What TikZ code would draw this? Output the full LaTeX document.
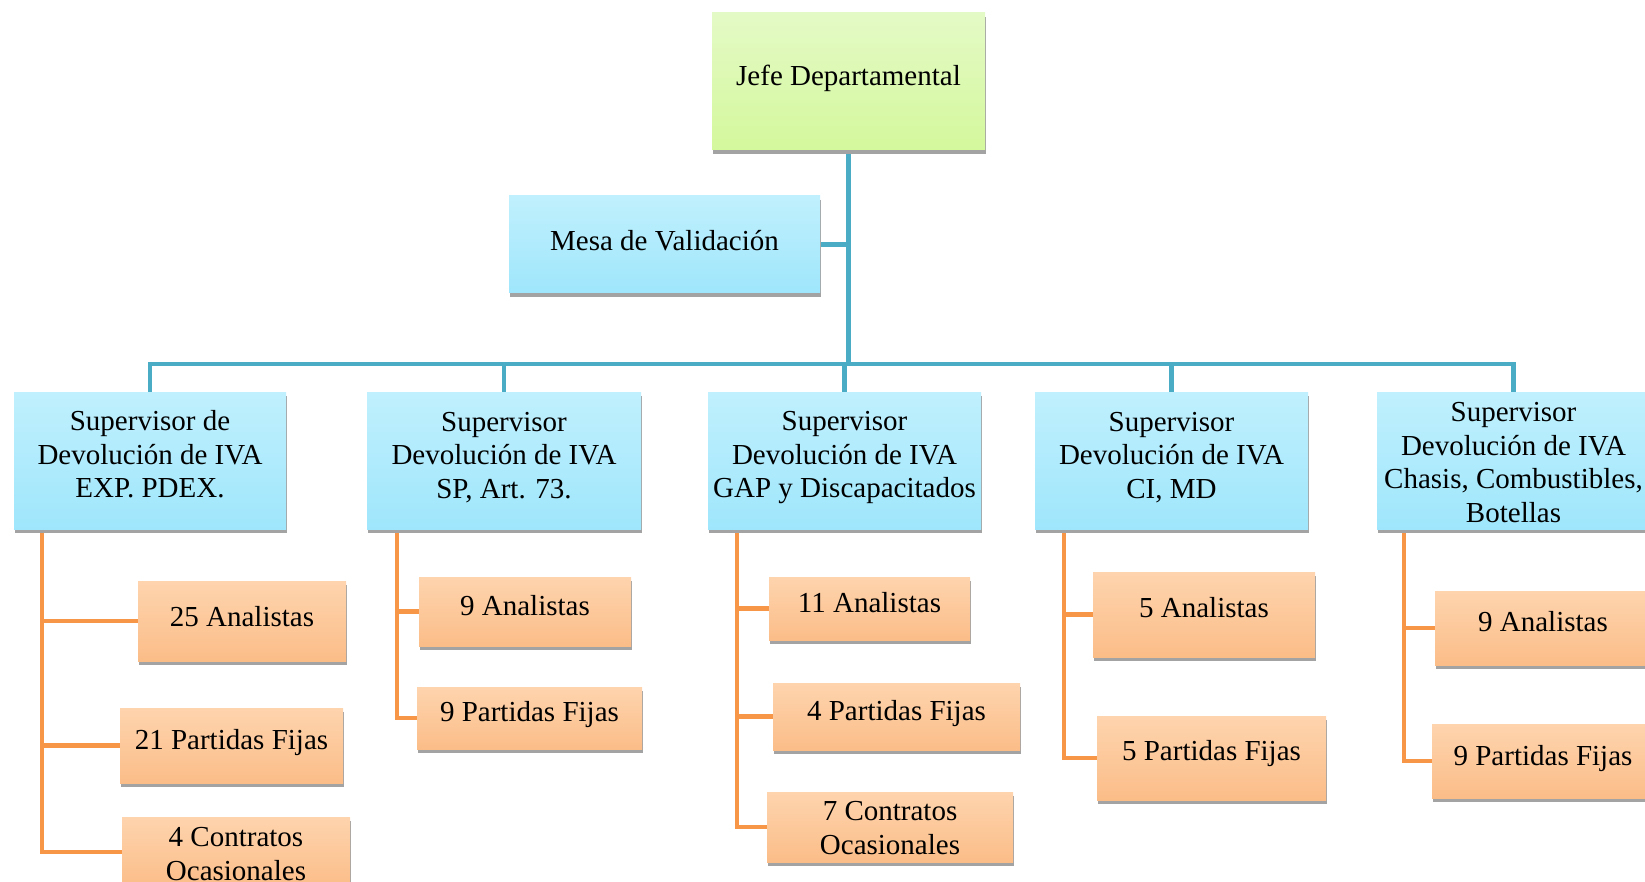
\documentclass[tikz,border=0pt]{standalone}
\usepackage{fontspec}
\setmainfont{Liberation Serif}
\usetikzlibrary{shadows,backgrounds}
\definecolor{greentop}{HTML}{E4FAC6}
\definecolor{greenbot}{HTML}{D4F89C}
\definecolor{bluetop}{HTML}{C0F0FD}
\definecolor{bluebot}{HTML}{9FE6FC}
\definecolor{orangetop}{HTML}{FED4AE}
\definecolor{orangebot}{HTML}{FBBD88}
\definecolor{blueline}{HTML}{4BACC6}
\definecolor{orangeline}{HTML}{F79646}
\definecolor{shadowgray}{HTML}{A3A3A3}
\begin{document}
\begin{tikzpicture}[x=1pt,y=-1pt,
  box/.style={inner sep=0pt,
    drop shadow={shadow xshift=0.8pt, shadow yshift=-4pt, fill=shadowgray, opacity=1}},
  lbl/.style={inner sep=0pt, align=center, font=\fontsize{29}{33.5}\selectfont},
  greenbox/.style={box, top color=greentop, bottom color=greenbot},
  bluebox/.style={box, top color=bluetop, bottom color=bluebot},
  orangebox/.style={box, top color=orangetop, bottom color=orangebot},
  bline/.style={draw=blueline, line width=4.5pt},
  oline/.style={draw=orangeline, line width=4.5pt}]
\useasboundingbox (0,0) rectangle (1645,882);
\clip (0,0) rectangle (1645,882);

% head and staff
\node[greenbox, minimum width=273pt, minimum height=137pt,
  label={[lbl,yshift=3pt]center:Jefe Departamental}] (jefe) at (848.5,81.5) {};
\node[bluebox, minimum width=311pt, minimum height=97pt,
  label={[lbl,yshift=4pt]center:Mesa de Validación}] (mesa) at (664.5,244.5) {};

% supervisors
\node[bluebox, minimum width=272pt, minimum height=137pt,
  label={[lbl,yshift=6pt]center:{Supervisor de\\Devolución de IVA\\EXP. PDEX.}}] (s1) at (150,460.5) {};
\node[bluebox, minimum width=274pt, minimum height=137pt,
  label={[lbl,yshift=3pt]center:{Supervisor\\Devolución de IVA\\SP, Art. 73.}}] (s2) at (504,460.5) {};
\node[bluebox, minimum width=273pt, minimum height=137pt,
  label={[lbl,yshift=2.5pt]center:{Supervisor\\Devolución de IVA\\GAP y Discapacitados}}] (s3) at (844.5,460.5) {};
\node[bluebox, minimum width=273pt, minimum height=137pt,
  label={[lbl,yshift=3pt]center:{Supervisor\\Devolución de IVA\\CI, MD}}] (s4) at (1171.5,460.5) {};
\node[bluebox, minimum width=273pt, minimum height=137pt,
  label={[lbl,yshift=-2pt]center:{Supervisor\\Devolución de IVA\\Chasis, Combustibles,\\Botellas}}] (s5) at (1513.5,460.5) {};

% staff under each supervisor
\node[orangebox, minimum width=208pt, minimum height=80pt,
  label={[lbl,yshift=4pt]center:25 Analistas}] (c11) at (242,621) {};
\node[orangebox, minimum width=223pt, minimum height=75pt,
  label={[lbl,yshift=3pt]center:21 Partidas Fijas}] (c12) at (231.5,745.5) {};
\node[orangebox, minimum width=228pt, minimum height=70pt,
  label={[lbl,yshift=-2pt]center:{4 Contratos\\Ocasionales}}] (c13) at (236,852) {};

\node[orangebox, minimum width=212pt, minimum height=69pt,
  label={[lbl,yshift=6pt]center:9 Analistas}] (c21) at (525,611.5) {};
\node[orangebox, minimum width=225pt, minimum height=62pt,
  label={[lbl,yshift=3pt]center:9 Partidas Fijas}] (c22) at (529.5,718) {};

\node[orangebox, minimum width=201pt, minimum height=63pt,
  label={[lbl,yshift=6pt]center:11 Analistas}] (c31) at (869.5,608.5) {};
\node[orangebox, minimum width=247pt, minimum height=67pt,
  label={[lbl,yshift=3pt]center:4 Partidas Fijas}] (c32) at (896.5,716.5) {};
\node[orangebox, minimum width=246pt, minimum height=70pt,
  label={[lbl,yshift=-1pt]center:{7 Contratos\\Ocasionales}}] (c33) at (890,827) {};

\node[orangebox, minimum width=222pt, minimum height=85pt,
  label={[lbl,yshift=7pt]center:5 Analistas}] (c41) at (1204,614.5) {};
\node[orangebox, minimum width=229pt, minimum height=84pt,
  label={[lbl,yshift=4pt]center:5 Partidas Fijas}] (c42) at (1211.5,758) {};

\node[orangebox, minimum width=216pt, minimum height=74pt,
  label={[lbl,yshift=6pt]center:9 Analistas}] (c51) at (1543,628) {};
\node[orangebox, minimum width=222pt, minimum height=74pt,
  label={[lbl,yshift=2pt]center:9 Partidas Fijas}] (c52) at (1543,761) {};

% bus and spine positions
\coordinate (bus) at (0,364);
\coordinate (sp1) at (42,0);
\coordinate (sp2) at (397,0);
\coordinate (sp3) at (737,0);
\coordinate (sp4) at (1064,0);
\coordinate (sp5) at (1404,0);

\begin{pgfonlayer}{background}
  % blue connectors
  \draw[bline] (jefe.south) -- (jefe.south |- bus);
  \draw[bline] (mesa.east) -- (mesa.east -| jefe.south);
  \draw[bline] (s1.north) -- (s1.north |- bus) -- (s5.north |- bus) -- (s5.north);
  \draw[bline] (s2.north) -- (s2.north |- bus);
  \draw[bline] (s3.north) -- (s3.north |- bus);
  \draw[bline] (s4.north) -- (s4.north |- bus);
  % orange connectors
  \draw[oline] (sp1 |- s1.south) |- (c13.west);
  \draw[oline] (sp1 |- c11.west) -- (c11.west);
  \draw[oline] (sp1 |- c12.west) -- (c12.west);
  \draw[oline] (sp2 |- s2.south) |- (c22.west);
  \draw[oline] (sp2 |- c21.west) -- (c21.west);
  \draw[oline] (sp3 |- s3.south) |- (c33.west);
  \draw[oline] (sp3 |- c31.west) -- (c31.west);
  \draw[oline] (sp3 |- c32.west) -- (c32.west);
  \draw[oline] (sp4 |- s4.south) |- (c42.west);
  \draw[oline] (sp4 |- c41.west) -- (c41.west);
  \draw[oline] (sp5 |- s5.south) |- (c52.west);
  \draw[oline] (sp5 |- c51.west) -- (c51.west);
\end{pgfonlayer}
\end{tikzpicture}
\end{document}
